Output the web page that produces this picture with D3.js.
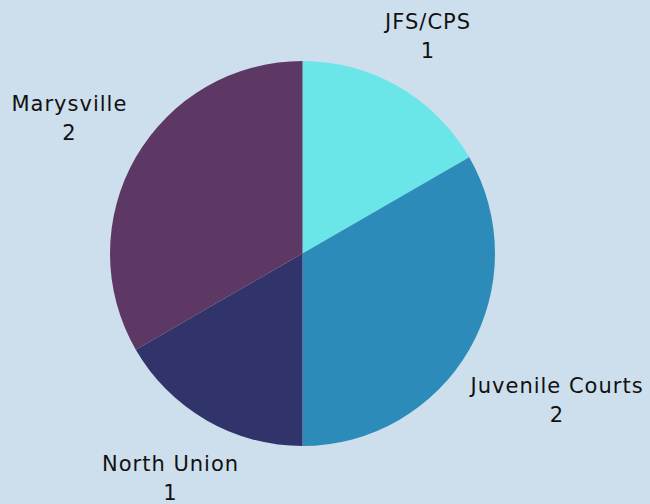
<!DOCTYPE html>
<html>
<head>
<meta charset="utf-8">
<script src="https://cdn.jsdelivr.net/npm/d3@7"></script>
<style>
  body { margin: 0; background: #cddfec; }
  text { font-family: "DejaVu Sans", sans-serif; font-size: 21px; letter-spacing: 1px; fill: #111; }
</style>
</head>
<body>
<script>
// pie for referral sources

var width = 650,
	height = 504,
	radius = 192.5;

var categories = ['JFS/CPS', 'Juvenile Courts', 'North Union', 'Marysville'];
var values = [1, 2, 1, 2];
var colors = ['#6ae5e8', '#2d8bba', '#30346b', '#5e3864'];

var data = categories.map(function(c, i){ return {name: c, value: values[i], color: colors[i]}; });

var svg = d3.select('body').append('svg')
	.attr('width', width)
	.attr('height', height);

var g = svg.append('g')
	.attr('transform', 'translate(302.5,253.5)');

var pie = d3.pie()
	.value(function(d){ return d.value; })
	.sort(null);

var arc = d3.arc()
	.innerRadius(0)
	.outerRadius(radius);

var arcs = pie(data);

g.selectAll('.slice')
	.data(arcs)
	.enter().append('path').classed('slice', true)
	.attr('d', arc)
	.attr('fill', function(d){ return d.data.color; });

// labels outside, box pushed off the pie edge
var gap = 12,
	lineH = 29;

var labels = g.selectAll('.lbl')
	.data(arcs)
	.enter().append('text').classed('lbl', true)
	.attr('text-anchor', 'middle');

labels.append('tspan')
	.attr('x', 0)
	.attr('dy', 0)
	.text(function(d){ return d.data.name; });

labels.append('tspan')
	.attr('x', 0)
	.attr('dy', lineH)
	.text(function(d){ return d.data.value; });

labels.each(function(d){
	var t = d3.select(this);
	var w = t.select('tspan').node().getComputedTextLength();
	var h = lineH * 2;
	var a = (d.startAngle + d.endAngle) / 2;
	var sx = Math.sin(a), sy = -Math.cos(a);
	var r = radius + gap + Math.abs(w / 2 * sx) + Math.abs(h / 2 * sy);
	var cx = r * sx, cy = r * sy;
	// keep the bottom label inside the frame
	cy = Math.min(cy, height - 253.5 - h / 2 + 3);
	t.attr('transform', 'translate(' + cx + ',' + (cy - lineH / 2 + 7) + ')');
});
</script>
</body>
</html>
